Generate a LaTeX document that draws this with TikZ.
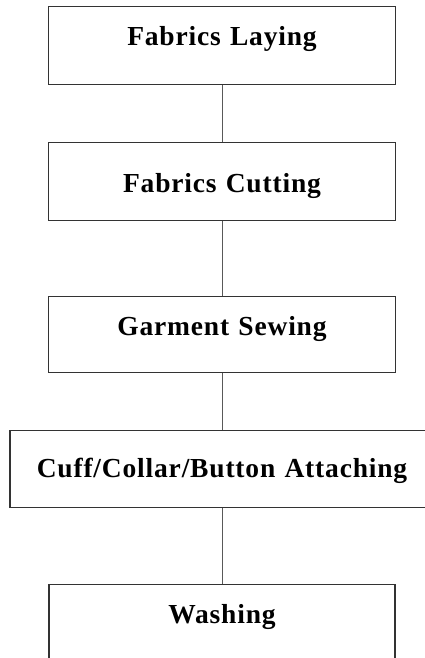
\documentclass[tikz,border=0pt]{standalone}
\usepackage{fontspec}
\setmainfont{Liberation Serif}[LetterSpace=3]
\begin{document}
\begin{tikzpicture}[x=1pt,y=-1pt,
  stepbox/.style={draw=black!80, line width=1.3pt, rectangle, anchor=north,
    inner sep=0pt, align=center,
    font=\fontsize{27.5}{30}\selectfont\bfseries},
  link/.style={draw=black!65, line width=0.8pt}]
\useasboundingbox (0,0) rectangle (425,658);
\node[stepbox, text width=347pt, text height=39pt, text depth=39pt] (b1) at (222,6) {Fabrics Laying};
\node[stepbox, text width=347pt, text height=50pt, text depth=28pt] (b2) at (222,142) {Fabrics Cutting};
\node[stepbox, text width=347pt, text height=39pt, text depth=37pt] (b3) at (222,296) {Garment Sewing};
\node[stepbox, text width=424pt, text height=47pt, text depth=30pt] (b4) at (222,430) {Cuff/Collar/Button Attaching};
\node[stepbox, text width=346pt, text height=39pt, text depth=39pt] (b5) at (222,584) {Washing};
\draw[link] (b1.south) -- (b2.north);
\draw[link] (b2.south) -- (b3.north);
\draw[link] (b3.south) -- (b4.north);
\draw[link] (b4.south) -- (b5.north);
\end{tikzpicture}
\end{document}
